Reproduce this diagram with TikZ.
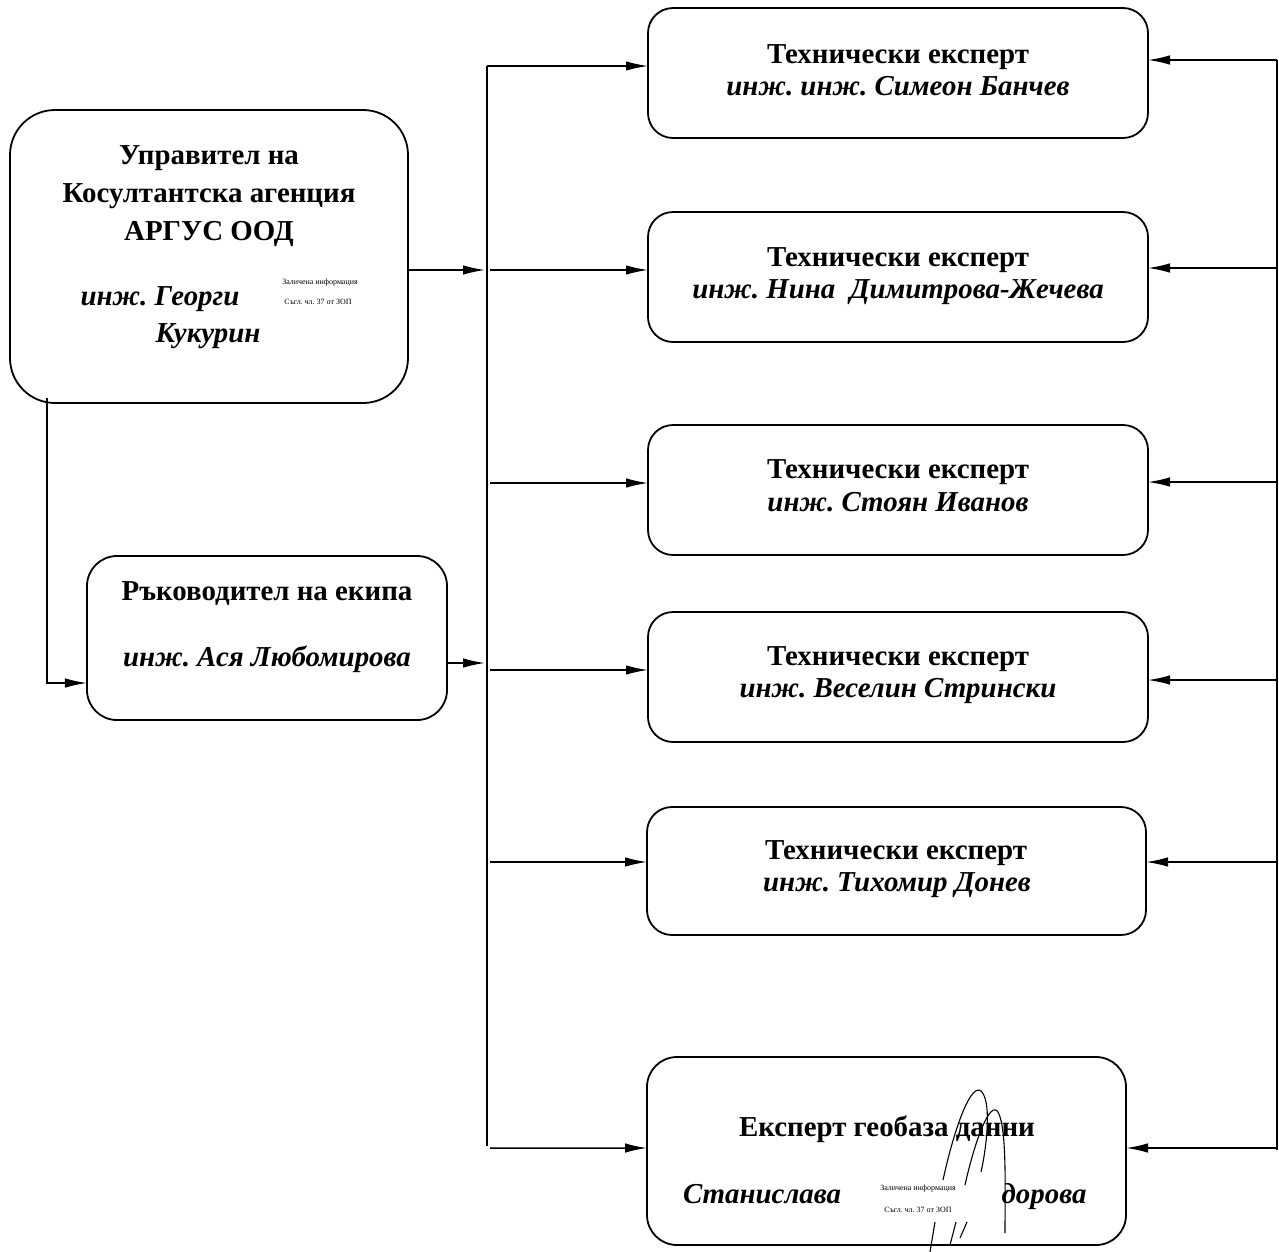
\documentclass[tikz,border=0pt]{standalone}
\usepackage{fontspec}
\setmainfont{Liberation Serif}
\usetikzlibrary{arrows.meta}
\frenchspacing
\begin{document}
\begin{tikzpicture}[x=1bp,y=-1bp,
  box/.style={draw, line width=1.8bp, inner sep=0pt, outer sep=0pt, fill=white},
  ttl/.style={font=\fontsize{29}{32}\selectfont\bfseries, inner sep=0pt, align=center, anchor=base},
  nm/.style={font=\fontsize{29}{32}\selectfont\bfseries\itshape, inner sep=0pt, align=center, anchor=base},
  red/.style={font=\fontsize{8}{9}\selectfont, inner sep=0pt},
  ln/.style={line width=1.5bp},
  arr/.style={line width=1.5bp, -{Latex[length=22bp,width=9.5bp]}},
  sig/.style={line width=1.1bp}
]
\useasboundingbox (0,0) rectangle (1279,1252);
\fill[white] (0,0) rectangle (1279,1252);

% boxes
\node[box, rounded corners=45bp, minimum width=398bp, minimum height=293bp] (A) at (209,256.5) {};
\node[box, rounded corners=30bp, minimum width=360bp, minimum height=164bp] (B) at (267,638) {};
\node[box, rounded corners=25bp, minimum width=500bp, minimum height=130bp] (E1) at (898,73) {};
\node[box, rounded corners=25bp, minimum width=500bp, minimum height=130bp] (E2) at (898,277) {};
\node[box, rounded corners=25bp, minimum width=500bp, minimum height=130bp] (E3) at (898,490) {};
\node[box, rounded corners=25bp, minimum width=500bp, minimum height=130bp] (E4) at (898,677) {};
\node[box, rounded corners=25bp, minimum width=499bp, minimum height=128bp] (E5) at (896.5,871) {};
\node[box, rounded corners=30bp, minimum width=479bp, minimum height=188bp] (E6) at (886.5,1151) {};

% texts box A (baselines)
\node[ttl] (a1) at (209,164) {Управител на};
\node[ttl] (a2) at (209,202) {Косултантска агенция};
\node[ttl] (a3) at (209,240) {АРГУС ООД};
\node[nm] (a4) at (160,305) {инж. Георги};
\node[nm] (a5) at (208,342) {Кукурин};
\node[red] (ar1) at (320,283) {Заличена информация};
\node[red] (ar2) at (318,302) {Съгл. чл. 37 от ЗОП};

% texts box B
\node[ttl] (b1) at (267,600) {Ръководител на екипа};
\node[nm] (b2) at (267,666) {инж. Ася Любомирова};

% expert texts
\node[ttl] (t1a) at (898,63) {Технически експерт};
\node[nm] (t1b) at (898,95) {инж. инж. Симеон Банчев};
\node[ttl] (t2a) at (898,266) {Технически експерт};
\node[nm] (t2b) at (898,298) {инж. Нина\ \ Димитрова-Жечева};
\node[ttl] (t3a) at (898,478) {Технически експерт};
\node[nm] (t3b) at (898,511) {инж. Стоян Иванов};
\node[ttl] (t4a) at (898,665) {Технически експерт};
\node[nm] (t4b) at (898,697) {инж. Веселин Стрински};
\node[ttl] (t5a) at (896,859) {Технически експерт};
\node[nm] (t5b) at (897,891) {инж. Тихомир Донев};
\node[ttl] (t6a) at (887,1136) {Експерт геобаза данни};
\node[nm] (t6b) at (762,1203) {Станислава};
\node[nm] (t6c) at (1044,1203) {дорова};
\node[red] (er1) at (918,1189) {Заличена информация};
\node[red] (er2) at (918,1210) {Съгл. чл. 37 от ЗОП};

% signature
\draw[sig] (943,1180) .. controls (955,1125) and (972,1080) .. (982,1092) .. controls (992,1105) and (986,1150) .. (981,1172);
\draw[sig] (965,1185) .. controls (975,1140) and (990,1100) .. (998,1112) .. controls (1007,1128) and (1005,1190) .. (1005,1233);
\draw[sig] (935,1222) -- (930,1252);
\draw[sig] (956,1222) -- (950,1245);
\draw[sig] (960,1238) -- (967,1222);

% left bus
\coordinate (L1) at (487,66);
\coordinate (L2) at (487,270);
\coordinate (L3) at (487,483);
\coordinate (L4) at (487,670);
\coordinate (L5) at (487,862);
\coordinate (L6) at (487,1146);
\draw[ln] (L1) -- (L6);
\draw[arr] (L1) -- (E1.west |- L1);
\draw[arr] ([xshift=3bp]L2) -- (E2.west |- L2);
\draw[arr] ([xshift=3bp]L3) -- (E3.west |- L3);
\draw[arr] ([xshift=3bp]L4) -- (E4.west |- L4);
\draw[arr] ([xshift=3bp]L5) -- (E5.west |- L5);
\draw[arr] ([xshift=3bp,yshift=-2bp]L6) -- (E6.west |- 0,1148);

% inputs to left bus
\coordinate (AL) at (485,270);
\coordinate (BL) at (485,663);
\draw[arr] (A.east |- AL) -- (AL);
\draw[arr] (B.east |- BL) -- (BL);

% A to B
\coordinate (AB1) at (47,398);
\coordinate (AB2) at (47,683);
\draw[arr] (AB1) -- (AB2) -- (B.west |- AB2);

% right bus
\coordinate (R1) at (1277,60);
\coordinate (R2) at (1277,268);
\coordinate (R3) at (1277,482);
\coordinate (R4) at (1277,680);
\coordinate (R5) at (1277,862);
\coordinate (R6) at (1277,1148);
\draw[ln] (R1) -- ([yshift=-2bp]R6);
\draw[arr] (R1) -- (E1.east |- R1);
\draw[arr] (R2) -- (E2.east |- R2);
\draw[arr] (R3) -- (E3.east |- R3);
\draw[arr] (R4) -- (E4.east |- R4);
\draw[arr] (R5) -- (E5.east |- R5);
\draw[arr] (R6) -- (E6.east |- R6);
\end{tikzpicture}
\end{document}
